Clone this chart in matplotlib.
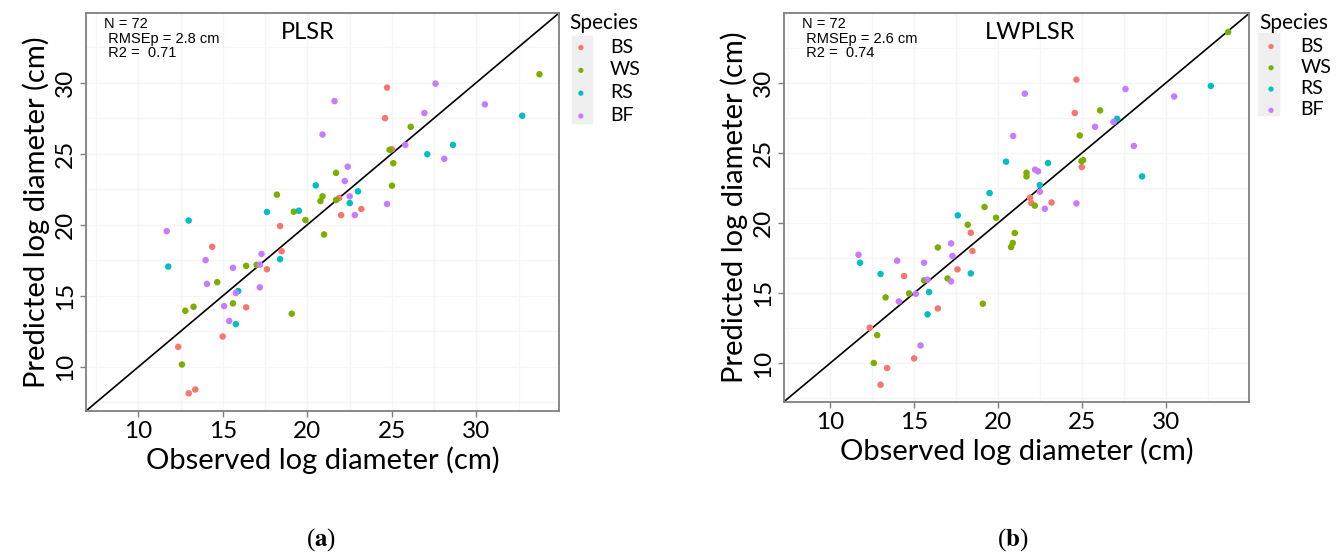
import matplotlib
matplotlib.use("Agg")
import matplotlib.pyplot as plt
from matplotlib.patches import Rectangle

plt.rcParams['mathtext.fontset'] = 'stix'

species = ["BS", "WS", "RS", "BF"]
colors = ["#F8766D", "#7CAE00", "#00BFC4", "#C77CFF"]

# ---- PLSR: observed / predicted per species ----
plsr_obs = {
    "BS": [24.72, 24.60, 25.01, 21.88, 23.20, 22.00, 18.39, 14.37, 18.48, 17.61, 16.38, 14.99, 12.36, 13.37, 12.98],
    "WS": [33.74, 26.12, 24.87, 25.09, 21.70, 25.01, 18.20, 20.90, 20.78, 21.70, 19.20, 19.89, 20.99, 16.38, 17.00,
           14.67, 15.60, 13.27, 12.78, 19.08, 12.58],
    "RS": [32.72, 28.62, 27.10, 20.50, 23.00, 22.51, 17.61, 19.50, 12.98, 18.39, 11.77, 15.91, 15.77],
    "BF": [27.59, 21.61, 30.51, 26.93, 20.90, 25.80, 28.11, 22.39, 22.22, 22.51, 24.72, 22.81, 11.68, 17.29, 13.98,
           15.60, 17.19, 14.06, 15.77, 17.19, 15.08, 15.38],
}
plsr_pred = {
    "BS": [29.65, 27.50, 25.31, 21.88, 21.11, 20.68, 19.91, 18.45, 18.14, 16.87, 14.19, 12.14, 11.41, 8.41, 8.14],
    "WS": [30.59, 26.89, 25.27, 24.33, 23.65, 22.75, 22.12, 22.00, 21.67, 21.74, 20.92, 20.33, 19.32, 17.11, 17.18,
           15.96, 14.47, 14.23, 13.95, 13.74, 10.17],
    "RS": [27.67, 25.62, 24.96, 22.77, 22.35, 21.53, 20.90, 20.99, 20.30, 17.58, 17.06, 15.34, 13.01],
    "BF": [29.93, 28.70, 28.47, 27.86, 26.35, 25.62, 24.64, 24.09, 23.08, 22.00, 21.46, 20.68, 19.55, 17.95, 17.51,
           16.97, 17.20, 15.84, 15.20, 15.60, 14.28, 13.23],
}

# ---- LWPLSR ----
lw_obs = {
    "BS": [24.68, 24.58, 25.00, 21.92, 22.00, 23.20, 18.39, 18.49, 17.60, 14.42, 16.43, 12.38, 15.02, 13.41, 13.02],
    "WS": [33.71, 26.09, 24.88, 24.98, 25.08, 21.71, 21.71, 22.20, 19.21, 19.90, 18.21, 21.01, 20.89, 20.79, 16.43,
           15.61, 17.01, 14.72, 13.32, 19.11, 12.82, 12.62],
    "RS": [32.68, 27.10, 20.49, 22.99, 28.59, 22.50, 19.51, 17.62, 11.80, 13.02, 18.39, 15.91, 15.82],
    "BF": [21.61, 27.60, 30.50, 26.89, 25.79, 20.91, 28.10, 22.22, 22.40, 22.50, 24.68, 22.80, 17.22, 17.30, 11.71,
           14.01, 15.61, 15.81, 17.22, 15.12, 14.11, 15.40],
}
lw_pred = {
    "BS": [30.24, 27.86, 24.01, 21.82, 21.44, 21.48, 19.32, 18.02, 16.71, 16.23, 13.92, 12.55, 10.36, 9.67, 8.48],
    "WS": [33.64, 28.05, 26.26, 24.43, 24.50, 23.60, 23.34, 21.25, 21.16, 20.39, 19.89, 19.30, 18.59, 18.30, 18.27,
           15.92, 16.06, 14.99, 14.71, 14.26, 12.02, 10.03],
    "RS": [29.79, 27.45, 24.39, 24.29, 23.34, 22.72, 22.15, 20.56, 17.18, 16.38, 16.42, 15.09, 13.50],
    "BF": [29.24, 29.57, 29.04, 27.22, 26.88, 26.22, 25.51, 23.82, 23.70, 22.25, 21.41, 21.03, 18.56, 17.66, 17.75,
           17.33, 17.18, 15.97, 15.85, 14.97, 14.42, 11.28],
}

ticks = [10, 15, 20, 25, 30]
minor_ticks = [7.5, 12.5, 17.5, 22.5, 27.5, 32.5]

fig = plt.figure(figsize=(13.41, 5.55), dpi=100)
ax1 = fig.add_axes([0.0641, 0.2595, 0.3528, 0.7171])
ax2 = fig.add_axes([0.5846, 0.2762, 0.3470, 0.6998])


def panel(ax, obs, pred, lims, title, title_x, stats, lab_space):
    ax.set_xlim(lims)
    ax.set_ylim(lims)
    for ln in minor_ticks + ticks:
        ax.axvline(ln, color="#f5f5f5", lw=0.9, zorder=0)
        ax.axhline(ln, color="#f5f5f5", lw=0.9, zorder=0)
    for sp, c in zip(species, colors):
        ax.scatter(obs[sp], pred[sp], s=22, color=c, edgecolors="none", label=sp, zorder=3)
    ax.plot(lims, lims, color="black", lw=1.2, zorder=2)
    ax.set_xticks(ticks)
    ax.set_yticks(ticks)
    ax.tick_params(labelsize=17.5, colors="#7f7f7f", length=4, width=1, labelcolor="black")
    ax.tick_params(axis="y", labelrotation=90, pad=3)
    for lab in ax.get_xticklabels() + ax.get_yticklabels():
        lab.set_family("Lato")
    for lab in ax.get_yticklabels():
        lab.set_va("center")
    for s in ax.spines.values():
        s.set_color("#7f7f7f")
        s.set_linewidth(1.3)
    ax.set_xlabel("Observed log diameter (cm)", family="Lato", size=21, labelpad=3)
    ax.set_ylabel("Predicted log diameter (cm)", family="Lato", size=21, labelpad=4)
    ax.text(title_x, 0.95, title, transform=ax.transAxes, ha="center", va="center",
            family="Lato", size=17)
    ax.text(0.038, 0.99, stats, transform=ax.transAxes, ha="left", va="top",
            family="Liberation Sans", size=10.5, linespacing=1.05)
    leg = ax.legend(title="Species", loc="upper left", bbox_to_anchor=(1.005, 1.02),
                    frameon=False, prop={"family": "Lato", "size": 14},
                    handletextpad=0.9, labelspacing=lab_space, handlelength=1.2,
                    borderaxespad=0, markerscale=0.8, alignment="left")
    leg.get_title().set_family("Lato")
    leg.get_title().set_size(15)
    return leg


panel(ax1, plsr_obs, plsr_pred, (6.9, 34.9), "PLSR", 0.469,
      "N = 72\n RMSEp = 2.8 cm\n R2 =  0.71", 0.3)
panel(ax2, lw_obs, lw_pred, (7.27, 34.97), "LWPLSR", 0.530,
      "N = 72\n RMSEp = 2.6 cm\n R2 =  0.74", 0.22)

# grey key backgrounds of the legends
fig.patches.append(Rectangle((572 / 1341, 1 - 123 / 555), 20 / 1341, 87 / 555,
                             transform=fig.transFigure, color="#efefef", zorder=-1))
fig.patches.append(Rectangle((1258 / 1341, 1 - 115 / 555), 21 / 1341, 82 / 555,
                             transform=fig.transFigure, color="#efefef", zorder=-1))

fig.text(321 / 1341, 1 - 540 / 555, r"($\mathbf{a}$)", ha="center", va="center",
         family="Liberation Serif", size=18)
fig.text(1013 / 1341, 1 - 540 / 555, r"($\mathbf{b}$)", ha="center", va="center",
         family="Liberation Serif", size=18)

fig.savefig("out.png", dpi=100)
plt.close(fig)
